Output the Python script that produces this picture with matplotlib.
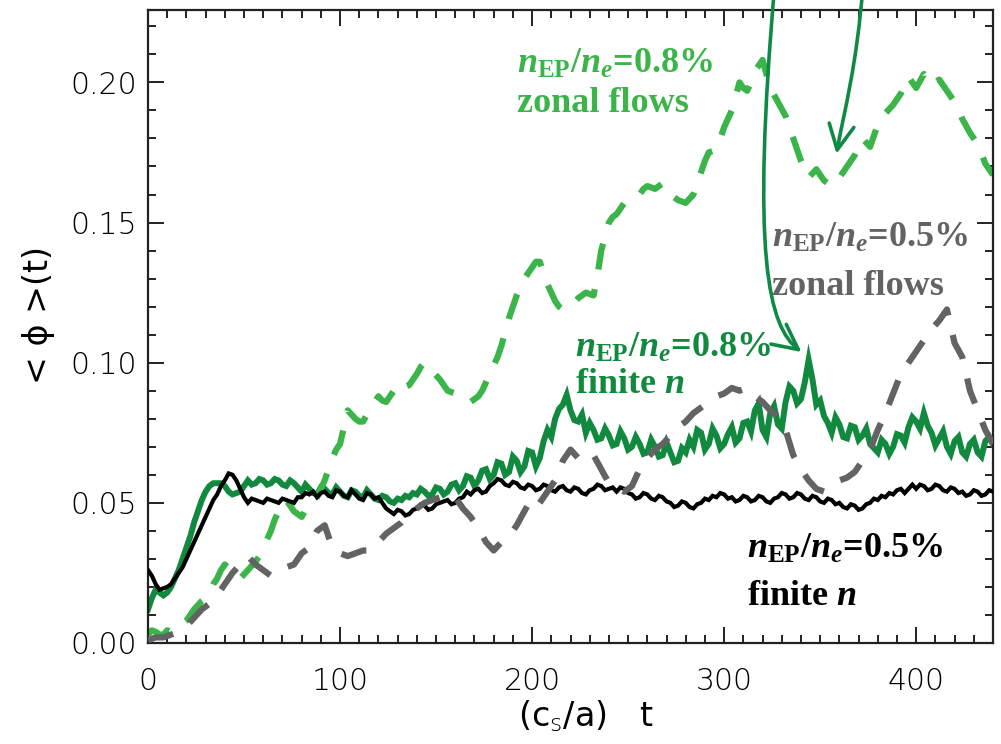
import numpy as np
import matplotlib
matplotlib.use("Agg")
import matplotlib.pyplot as plt
from matplotlib.patches import FancyArrowPatch
from matplotlib.path import Path
from matplotlib.ticker import MultipleLocator

# time axis shared by all four runs, (c_s/a) t
t = np.arange(0, 441, 2)

# n_EP/n_e = 0.5 %, finite n (black)
phi_05_finite = [
    0.026, 0.024, 0.021, 0.019, 0.0195, 0.020, 0.021, 0.023, 0.025, 0.027,
    0.030, 0.033, 0.036, 0.039, 0.042, 0.045, 0.048, 0.051, 0.053, 0.056,
    0.058, 0.0605, 0.060, 0.058, 0.055, 0.052, 0.050, 0.0515, 0.051, 0.0505,
    0.050, 0.0515, 0.051, 0.0505, 0.050, 0.0515, 0.051, 0.0505, 0.050, 0.052,
    0.052, 0.0535, 0.053, 0.054, 0.052, 0.0535, 0.054, 0.0525, 0.052, 0.0545,
    0.054, 0.0525, 0.052, 0.0545, 0.053, 0.0515, 0.051, 0.0535, 0.053, 0.0515,
    0.052, 0.050, 0.048, 0.047, 0.046, 0.0475, 0.047, 0.0455, 0.046, 0.0475,
    0.048, 0.0495, 0.049, 0.0475, 0.048, 0.0495, 0.050, 0.0505, 0.051, 0.0495,
    0.050, 0.0515, 0.052, 0.054, 0.053, 0.0545, 0.055, 0.0535, 0.054, 0.056,
    0.057, 0.0585, 0.058, 0.0565, 0.056, 0.0575, 0.057, 0.0555, 0.055, 0.0565,
    0.056, 0.0545, 0.055, 0.0565, 0.056, 0.0545, 0.054, 0.0555, 0.056, 0.0545,
    0.054, 0.0555, 0.055, 0.0535, 0.053, 0.0545, 0.055, 0.0565, 0.056, 0.0545,
    0.055, 0.0555, 0.054, 0.0555, 0.055, 0.0535, 0.053, 0.0515, 0.052, 0.0535,
    0.053, 0.0515, 0.051, 0.0525, 0.052, 0.0505, 0.050, 0.0485, 0.049, 0.0505,
    0.050, 0.0485, 0.048, 0.0495, 0.050, 0.0515, 0.051, 0.0525, 0.052, 0.0535,
    0.053, 0.0515, 0.052, 0.0505, 0.051, 0.0525, 0.052, 0.0505, 0.051, 0.0525,
    0.052, 0.0505, 0.050, 0.0515, 0.052, 0.0535, 0.053, 0.0515, 0.052, 0.0535,
    0.053, 0.0515, 0.051, 0.0525, 0.052, 0.0505, 0.050, 0.0515, 0.051, 0.0495,
    0.050, 0.0485, 0.048, 0.0495, 0.049, 0.0475, 0.048, 0.0495, 0.050, 0.0515,
    0.051, 0.0525, 0.052, 0.0535, 0.053, 0.0545, 0.055, 0.0535, 0.055, 0.0565,
    0.055, 0.0565, 0.056, 0.0545, 0.055, 0.0565, 0.056, 0.0545, 0.054, 0.0555,
    0.055, 0.0535, 0.054, 0.0525, 0.053, 0.0545, 0.054, 0.0525, 0.053, 0.0545,
    0.054,
]

# n_EP/n_e = 0.8 %, finite n (dark green)
phi_08_finite = [
    0.012, 0.016, 0.019, 0.018, 0.017, 0.018, 0.020, 0.023, 0.026, 0.030,
    0.034, 0.038, 0.043, 0.047, 0.051, 0.054, 0.056, 0.057, 0.057, 0.057,
    0.056, 0.054, 0.053, 0.0535, 0.054, 0.056, 0.058, 0.0565, 0.057, 0.0585,
    0.058, 0.0565, 0.057, 0.0585, 0.058, 0.0565, 0.056, 0.058, 0.057, 0.0555,
    0.054, 0.0565, 0.055, 0.0535, 0.053, 0.0555, 0.055, 0.0535, 0.053, 0.0555,
    0.054, 0.0525, 0.052, 0.0545, 0.054, 0.0525, 0.052, 0.0545, 0.053, 0.0515,
    0.051, 0.0525, 0.052, 0.0505, 0.050, 0.0515, 0.051, 0.0525, 0.052, 0.0535,
    0.053, 0.055, 0.054, 0.0525, 0.053, 0.0555, 0.055, 0.053, 0.054, 0.0565,
    0.057, 0.0545, 0.056, 0.0595, 0.059, 0.056, 0.058, 0.0615, 0.062, 0.0585,
    0.060, 0.0645, 0.064, 0.060, 0.061, 0.0665, 0.065, 0.061, 0.063, 0.0685,
    0.068, 0.063, 0.066, 0.072, 0.076, 0.0735, 0.080, 0.0835, 0.085, 0.0885,
    0.083, 0.0795, 0.079, 0.0815, 0.075, 0.0785, 0.076, 0.0725, 0.073, 0.0765,
    0.074, 0.0705, 0.071, 0.0755, 0.073, 0.069, 0.070, 0.0735, 0.071, 0.0675,
    0.068, 0.0725, 0.070, 0.0665, 0.067, 0.0715, 0.068, 0.0645, 0.065, 0.0695,
    0.068, 0.0725, 0.070, 0.076, 0.075, 0.069, 0.071, 0.0765, 0.074, 0.0695,
    0.071, 0.0745, 0.077, 0.0715, 0.073, 0.0785, 0.079, 0.0755, 0.083, 0.0855,
    0.076, 0.0735, 0.082, 0.0845, 0.078, 0.0765, 0.086, 0.0915, 0.090, 0.0855,
    0.087, 0.093, 0.101, 0.094, 0.085, 0.0865, 0.081, 0.0785, 0.075, 0.0805,
    0.078, 0.0735, 0.073, 0.0775, 0.077, 0.0725, 0.074, 0.0765, 0.071, 0.0695,
    0.068, 0.0725, 0.071, 0.0675, 0.070, 0.0745, 0.074, 0.0715, 0.077, 0.0805,
    0.079, 0.0765, 0.082, 0.0775, 0.075, 0.0705, 0.073, 0.0755, 0.070, 0.0675,
    0.072, 0.0735, 0.068, 0.0665, 0.071, 0.0725, 0.068, 0.0665, 0.072, 0.0735,
    0.071,
]

# n_EP/n_e = 0.8 %, zonal flows (light green, dashed)
phi_08_zonal = [
    0.003, 0.0045, 0.004, 0.003, 0.003, 0.0045, 0.004, 0.005, 0.006, 0.007,
    0.008, 0.010, 0.012, 0.0135, 0.015, 0.016, 0.018, 0.021, 0.023, 0.026,
    0.028, 0.0265, 0.025, 0.024, 0.023, 0.0245, 0.026, 0.0275, 0.029, 0.031,
    0.034, 0.037, 0.040, 0.044, 0.047, 0.050, 0.051, 0.049, 0.047, 0.046,
    0.045, 0.0475, 0.050, 0.0505, 0.052, 0.055, 0.058, 0.062, 0.066, 0.069,
    0.071, 0.077, 0.083, 0.0815, 0.080, 0.079, 0.079, 0.0815, 0.084, 0.086,
    0.088, 0.0865, 0.086, 0.088, 0.090, 0.0915, 0.093, 0.0915, 0.092, 0.094,
    0.096, 0.0985, 0.100, 0.099, 0.097, 0.0955, 0.094, 0.092, 0.090, 0.0895,
    0.089, 0.0885, 0.088, 0.087, 0.086, 0.087, 0.088, 0.090, 0.093, 0.096,
    0.099, 0.102, 0.106, 0.111, 0.116, 0.120, 0.124, 0.127, 0.130, 0.132,
    0.134, 0.136, 0.136, 0.132, 0.128, 0.125, 0.122, 0.120, 0.119, 0.1195,
    0.120, 0.1215, 0.123, 0.124, 0.125, 0.1245, 0.124, 0.131, 0.140, 0.145,
    0.150, 0.152, 0.153, 0.155, 0.157, 0.1575, 0.158, 0.159, 0.160, 0.162,
    0.163, 0.1625, 0.162, 0.163, 0.164, 0.1625, 0.161, 0.159, 0.158, 0.1575,
    0.157, 0.1585, 0.160, 0.164, 0.168, 0.172, 0.175, 0.1755, 0.176, 0.180,
    0.184, 0.187, 0.190, 0.195, 0.200, 0.198, 0.197, 0.200, 0.204, 0.206,
    0.208, 0.203, 0.198, 0.1955, 0.193, 0.1905, 0.188, 0.184, 0.180, 0.176,
    0.172, 0.169, 0.166, 0.1675, 0.169, 0.167, 0.165, 0.164, 0.163, 0.1645,
    0.166, 0.168, 0.170, 0.172, 0.174, 0.177, 0.180, 0.1785, 0.177, 0.181,
    0.185, 0.187, 0.189, 0.1905, 0.192, 0.194, 0.196, 0.199, 0.202, 0.200,
    0.198, 0.2005, 0.203, 0.201, 0.199, 0.200, 0.201, 0.199, 0.197, 0.195,
    0.193, 0.190, 0.187, 0.1845, 0.182, 0.180, 0.178, 0.1745, 0.171, 0.169,
    0.167,
]

# n_EP/n_e = 0.5 %, zonal flows (gray, dashed)
phi_05_zonal = [
    0.001, 0.0015, 0.002, 0.002, 0.002, 0.0025, 0.003, 0.0035, 0.004, 0.005,
    0.006, 0.0075, 0.009, 0.0105, 0.012, 0.013, 0.014, 0.0155, 0.017, 0.019,
    0.021, 0.023, 0.025, 0.0265, 0.028, 0.0295, 0.031, 0.0295, 0.028, 0.027,
    0.026, 0.025, 0.024, 0.025, 0.026, 0.0265, 0.027, 0.0275, 0.028, 0.030,
    0.032, 0.033, 0.034, 0.037, 0.040, 0.041, 0.042, 0.038, 0.034, 0.033,
    0.032, 0.0315, 0.031, 0.0315, 0.032, 0.0325, 0.033, 0.033, 0.033, 0.0345,
    0.036, 0.0375, 0.039, 0.040, 0.041, 0.042, 0.043, 0.0445, 0.046, 0.047,
    0.048, 0.049, 0.050, 0.0505, 0.051, 0.0515, 0.052, 0.0525, 0.053, 0.0525,
    0.052, 0.050, 0.048, 0.0465, 0.045, 0.043, 0.041, 0.0385, 0.036, 0.0345,
    0.033, 0.0345, 0.036, 0.037, 0.038, 0.040, 0.042, 0.0445, 0.047, 0.0495,
    0.052, 0.051, 0.050, 0.052, 0.054, 0.056, 0.058, 0.0615, 0.065, 0.067,
    0.069, 0.0675, 0.066, 0.067, 0.068, 0.0675, 0.067, 0.0645, 0.062, 0.0595,
    0.057, 0.056, 0.055, 0.0545, 0.054, 0.055, 0.056, 0.059, 0.062, 0.064,
    0.066, 0.0675, 0.069, 0.070, 0.071, 0.0725, 0.074, 0.0755, 0.077, 0.078,
    0.079, 0.0805, 0.082, 0.083, 0.084, 0.085, 0.086, 0.087, 0.088, 0.0885,
    0.089, 0.090, 0.091, 0.0905, 0.090, 0.0905, 0.091, 0.0895, 0.088, 0.087,
    0.086, 0.0845, 0.083, 0.082, 0.081, 0.0785, 0.076, 0.0715, 0.067, 0.0645,
    0.062, 0.060, 0.058, 0.0565, 0.055, 0.0545, 0.054, 0.055, 0.056, 0.057,
    0.058, 0.0585, 0.059, 0.060, 0.061, 0.063, 0.065, 0.067, 0.069, 0.0725,
    0.076, 0.079, 0.082, 0.0855, 0.089, 0.0925, 0.096, 0.098, 0.100, 0.102,
    0.104, 0.106, 0.108, 0.110, 0.112, 0.1135, 0.115, 0.117, 0.119, 0.113,
    0.107, 0.1045, 0.102, 0.096, 0.090, 0.0865, 0.083, 0.0795, 0.076, 0.0735,
    0.071,
]

x_ticks = [0, 100, 200, 300, 400]
y_ticks = [0.00, 0.05, 0.10, 0.15, 0.20]

LIGHT_GREEN = "#3bb54a"
DARK_GREEN = "#11893f"
GRAY = "#636363"
ARROW_GREEN = "#0f8a45"

plt.rcParams["font.family"] = ["DejaVu Sans"]
plt.rcParams["font.weight"] = "light"
plt.rcParams["mathtext.fontset"] = "custom"
plt.rcParams["mathtext.rm"] = "Liberation Serif:bold"
plt.rcParams["mathtext.it"] = "Liberation Serif:bold:italic"
plt.rcParams["mathtext.bf"] = "Liberation Serif:bold"

fig = plt.figure(figsize=(10.01, 7.44), dpi=100)
ax = fig.add_axes([148 / 1001, 101 / 744, 845 / 1001, 633.5 / 744])

ax.plot(t, phi_08_finite, color=DARK_GREEN, lw=4.3, zorder=2,
        solid_joinstyle="miter")
ax.plot(t, phi_08_zonal, color=LIGHT_GREEN, lw=4.5, zorder=2.5,
        linestyle=(0, (4.2, 3.2)), dash_capstyle="butt")
ax.plot(t, phi_05_finite, color="black", lw=3.0, zorder=3,
        solid_joinstyle="miter")
ax.plot(t, phi_05_zonal, color=GRAY, lw=4.5, zorder=4,
        linestyle=(0, (4.2, 3.2)), dash_capstyle="butt")

ax.set_xlim(0, 440)
ax.set_ylim(0, 0.226)
ax.set_xticks(x_ticks)
ax.set_xticklabels([str(v) for v in x_ticks])
ax.set_yticks(y_ticks)
ax.set_yticklabels([f"{v:.2f}" for v in y_ticks])
ax.xaxis.set_minor_locator(MultipleLocator(10))
ax.yaxis.set_minor_locator(MultipleLocator(0.01))
ax.tick_params(which="both", direction="in", top=True, right=True,
               width=1.4, color="#222222", labelcolor="black")
ax.tick_params(which="major", length=11.5)
ax.tick_params(which="minor", length=6)
ax.tick_params(axis="x", which="major", pad=17, labelsize=21.5)
ax.tick_params(axis="y", which="major", pad=8, labelsize=21.5)
for side in ax.spines.values():
    side.set_linewidth(1.6)
    side.set_color("#222222")

label_kw = dict(fontsize=24, color="black", math_fontfamily="dejavusans")
ax.set_xlabel(r"(c$_\mathrm{s}$/a)   t", **label_kw)
ax.xaxis.set_label_coords(0.518, -0.088)
ax.set_ylabel("< ϕ >(t)", **label_kw)
ax.yaxis.set_label_coords(-0.11, 0.518)


def annotate_case(x_px, base1_px, base2_px, pct, second, color):
    """Two-line case label, positioned in axes fraction."""
    xf = (x_px - 148) / 845
    y1 = (643 - base1_px) / 633.5
    y2 = (643 - base2_px) / 633.5
    ax.text(xf, y1, r"$n_{\mathrm{EP}}/n_e$=" + pct, transform=ax.transAxes,
            ha="left", va="baseline", color=color, fontsize=26,
            family="Liberation Serif", fontweight="bold")
    ax.text(xf, y2, second, transform=ax.transAxes, ha="left",
            va="baseline", color=color, fontsize=26,
            family="Liberation Serif", fontweight="bold")


annotate_case(517, 73, 112, "0.8%", "zonal flows", LIGHT_GREEN)
annotate_case(772, 247, 295, "0.5%", "zonal flows", GRAY)
annotate_case(575, 357, 393, "0.8%", r"finite $n$", DARK_GREEN)
annotate_case(747, 558, 605, "0.5%", r"finite $n$", "black")

# arrows dropping in from above the frame onto the two features
arrow_paths = [
    [(326.5, 0.236), (314.0, 0.138), (323.0, 0.113), (340.3, 0.1038)],
    [(372.5, 0.236), (369.0, 0.205), (362.5, 0.190), (358.5, 0.1745)],
]
codes = [Path.MOVETO, Path.CURVE4, Path.CURVE4, Path.CURVE4]
for verts in arrow_paths:
    arr = FancyArrowPatch(path=Path(verts, codes),
                          arrowstyle="->,head_length=0.9,head_width=0.45",
                          mutation_scale=20, lw=2.6, color=ARROW_GREEN,
                          transform=ax.transData, clip_on=False, zorder=6)
    ax.add_patch(arr)

fig.savefig("out.png", dpi=100)
